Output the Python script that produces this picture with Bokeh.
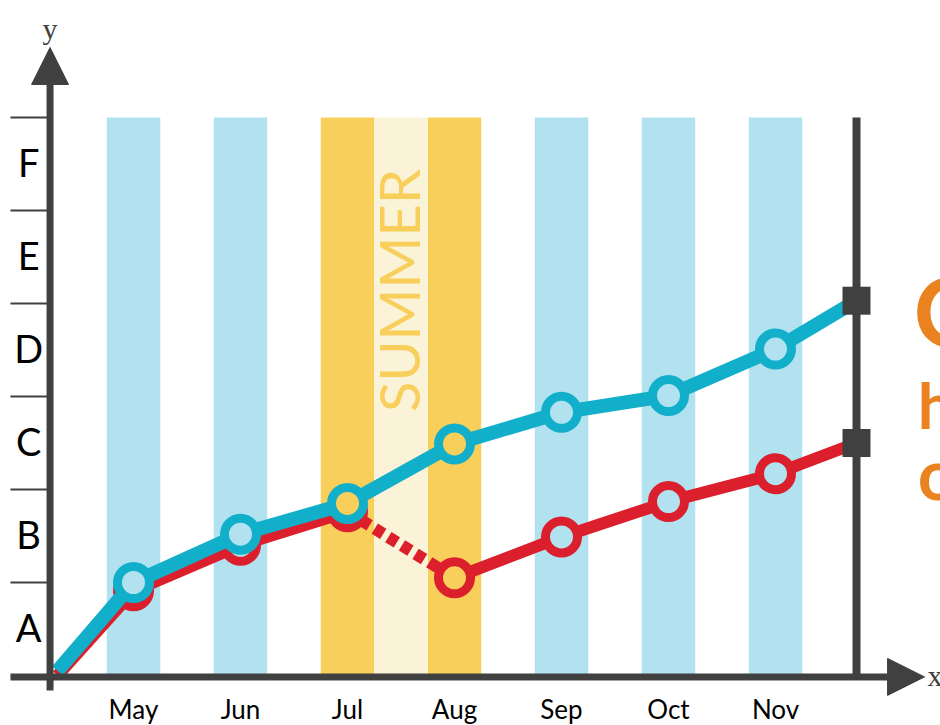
import math
from bokeh.plotting import figure
from bokeh.models import Arrow, NormalHead
from bokeh.core.properties import value
from bokeh.embed import file_html
from bokeh.resources import INLINE

# ---------------- data ----------------
months = ["May", "Jun", "Jul", "Aug", "Sep", "Oct", "Nov"]
grades = ["A", "B", "C", "D", "E", "F"]
summer_months = ["Jul", "Aug"]
summer_label = "SUMMER"

blue_start = 0.05
blue_vals = [1.00, 1.52, 1.85, 2.49, 2.83, 3.01, 3.51]
blue_end = 4.03

red_start = 0.0
red_vals = [0.91, 1.40, 1.76, 1.05, 1.49, 1.87, 2.17]
red_end = 2.50

side_text = ["C", "h", "o"]

# ---------------- style ----------------
DARK = "#404040"
BLUE = "#12AFCB"
RED = "#DB1F2C"
LIGHT_BLUE = "#B2E2F0"
YELLOW = "#F9CF5B"
PALE = "#FAF3D7"
ORANGE = "#E9821F"
FONT = "Lato"

W, H = 940, 725
PXX, PXY = 107.0, 93.0
X0PX, Y0PX = 133.0, 675.0
x_range = (-X0PX / PXX, (W - X0PX) / PXX)
y_range = ((Y0PX - H) / PXY, Y0PX / PXY)

p = figure(width=W, height=H, x_range=x_range, y_range=y_range,
           output_backend="svg", toolbar_location=None, min_border=0,
           title=None)
p.axis.visible = False
p.grid.visible = False
p.outline_line_color = None
p.background_fill_color = "white"
p.border_fill_color = "white"

mx = list(range(len(months)))
top = len(grades)
x_start, x_end = -0.71, 6.757
x_axis_x = -0.78

# stripes
stripe_colors = [YELLOW if m in summer_months else LIGHT_BLUE for m in months]
p.vbar(x=mx, width=0.5, bottom=0, top=top, fill_color=stripe_colors, line_color=None)
s_idx = [months.index(m) for m in summer_months]
mid = sum(s_idx) / len(s_idx)
p.vbar(x=[mid], width=0.5, bottom=0, top=top, fill_color=PALE, line_color=None)
p.text(x=[mid - 0.025], y=[4.14], text=[summer_label], angle=math.pi / 2,
       text_font=value(FONT), text_font_size="56px", text_color=YELLOW,
       text_align="center", text_baseline="middle")

# y ticks
gy = list(range(1, top + 1))
p.segment(x0=[-1.15] * len(gy), x1=[x_axis_x] * len(gy), y0=gy, y1=gy,
          line_color=DARK, line_width=2)

# grade labels
p.text(x=[-0.98] * len(grades), y=[i + 0.52 for i in range(len(grades))], text=grades,
       text_font=value(FONT), text_font_size="38px", text_color="black",
       text_align="center", text_baseline="middle")

# month labels
p.text(x=mx, y=[-0.36] * len(months), text=months,
       text_font=value(FONT), text_font_size="26px", text_color="black",
       text_align="center", text_baseline="middle")

# axes with arrows
p.add_layout(Arrow(end=NormalHead(size=37, fill_color=DARK, line_color=DARK, line_width=1),
                   x_start=-1.15, y_start=-0.015, x_end=7.393, y_end=-0.015,
                   line_color=DARK, line_width=7, line_cap="butt"))
p.add_layout(Arrow(end=NormalHead(size=37, fill_color=DARK, line_color=DARK, line_width=1),
                   x_start=x_axis_x, y_start=-0.161, x_end=x_axis_x, y_end=6.753,
                   line_color=DARK, line_width=7, line_cap="butt"))
p.text(x=[x_axis_x], y=[6.957], text=["y"], text_font=value("Liberation Serif"),
       text_font_size="30px", text_color=DARK, text_align="center",
       text_baseline="middle")
p.text(x=[7.42], y=[0.0], text=["x"], text_font=value("Liberation Serif"),
       text_font_size="30px", text_color=DARK, text_align="left",
       text_baseline="middle")

# right vertical line
p.segment(x0=[x_end], x1=[x_end], y0=[0], y1=[top], line_color=DARK, line_width=8)

# red series
rx = [x_start] + mx + [x_end]
ry = [red_start] + red_vals + [red_end]
j = months.index("Jul") + 1
a = months.index("Aug") + 1
p.line(rx[:j + 1], ry[:j + 1], line_color=RED, line_width=12, line_join="round")
p.line(rx[a:], ry[a:], line_color=RED, line_width=12, line_join="round")
p.line([rx[j], rx[a]], [ry[j], ry[a]], line_color=RED, line_width=12,
       line_dash="10 6", line_cap="butt")
p.scatter(mx, red_vals, marker="circle", size=32, line_width=9,
          line_color=RED, fill_color=stripe_colors)

# blue series
bx = [x_start] + mx + [x_end]
by = [blue_start] + blue_vals + [blue_end]
p.line(bx, by, line_color=BLUE, line_width=14, line_join="round")
p.scatter(mx, blue_vals, marker="circle", size=32, line_width=9,
          line_color=BLUE, fill_color=stripe_colors)

# end squares
p.scatter([x_end, x_end], [blue_end, red_end], marker="square", size=28,
          fill_color=DARK, line_color=None)

# cropped orange side text
p.text(x=[7.29, 7.33, 7.33], y=[3.94, 2.91, 2.18], text=side_text,
       text_font=value(FONT), text_font_style="bold",
       text_font_size=["96px", "64px", "70px"], text_color=ORANGE,
       text_align="left", text_baseline="middle")

open("out.html", "w").write(file_html(p, INLINE))
